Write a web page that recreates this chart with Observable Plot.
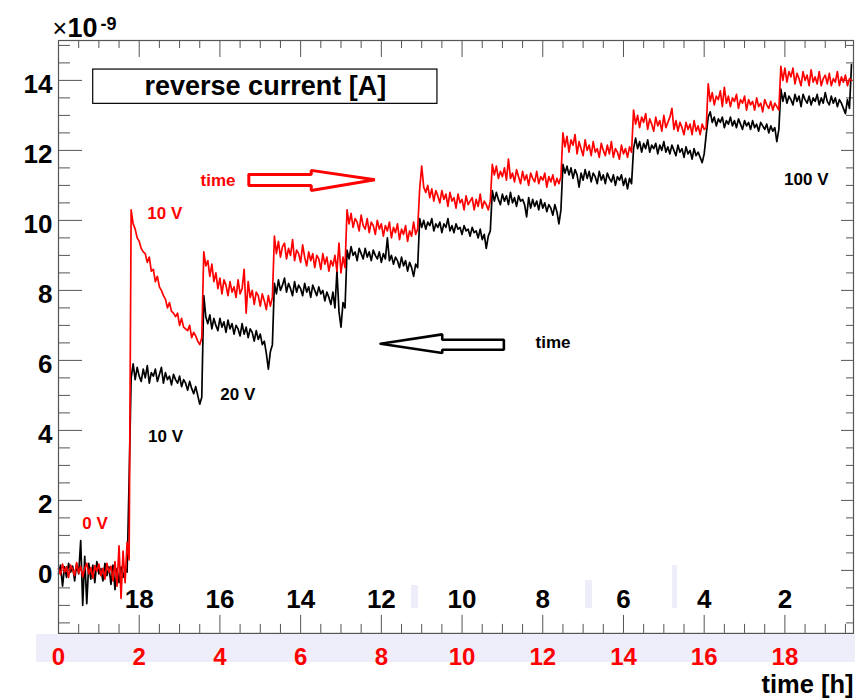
<!DOCTYPE html>
<html><head><meta charset="utf-8">
<script src="https://cdn.jsdelivr.net/npm/d3@7"></script>
<script src="https://cdn.jsdelivr.net/npm/@observablehq/plot@0.6"></script>
<style>
html,body{margin:0;padding:0;background:#fff;}
#wrap{position:relative;width:855px;height:698px;overflow:hidden;}
.band{position:absolute;background:#eeeefb;}
#chart{position:absolute;left:0;top:0;}
#chart svg{background:transparent;}
</style></head><body>
<div id="wrap">
<div class="band" style="left:36px;top:634px;width:819px;height:28px"></div>
<div class="band" style="left:411px;top:585px;width:7px;height:23px"></div>
<div class="band" style="left:585px;top:580px;width:7px;height:28px"></div>
<div class="band" style="left:672px;top:565px;width:5px;height:43px"></div>
<div id="chart"></div>
</div>
<script>
// sampling interval of the recorded traces (hours)
const sampleStep = 0.05;

// reverse current, red run (time running forward), units of 1e-9 A
const redCurrent = [
 0.05,-0.12,0.18,-0.05,0.10,-0.20,0.15,0.02,-0.15,0.22,-0.08,0.12,-0.18,0.05,0.20,-0.10,0.08,-0.22,0.14,-0.02,0.18,-0.15,0.06,-0.25,0.20,-0.05,0.12,-0.30,0.25,-0.45,0.70,-0.80,0.55,-0.35,0.80,0.30,
 10.30,9.90,9.75,9.50,9.40,9.20,9.10,9.05,8.80,8.95,8.55,8.60,8.25,8.40,8.10,8.00,7.85,7.75,7.50,7.65,7.40,7.35,7.25,7.35,7.00,7.20,6.95,6.90,6.85,7.00,6.65,6.80,6.70,6.55,6.45,6.65,
 9.10,8.70,8.85,8.40,8.75,8.25,8.50,8.05,8.35,7.90,8.30,8.15,7.85,8.25,7.95,8.10,7.80,8.30,7.90,8.05,8.60,7.35,8.25,7.80,8.00,7.60,7.95,7.85,7.55,7.90,7.70,7.45,7.85,7.55,7.80,
 9.55,9.05,9.40,8.95,9.25,9.35,8.90,9.20,9.00,9.45,8.85,9.15,9.05,8.80,9.30,8.95,8.70,9.10,8.85,9.05,8.65,9.00,8.90,8.60,9.05,8.75,8.95,8.55,8.85,8.70,9.00,8.55,9.35,8.50,8.95,8.65,
 10.30,9.90,10.20,9.80,10.05,9.95,9.70,10.15,9.85,9.75,10.05,9.65,9.95,9.85,9.60,10.00,9.75,9.90,9.55,9.85,9.70,9.95,9.50,9.80,9.65,9.90,9.45,9.75,9.60,9.85,9.40,9.70,9.55,9.95,9.60,9.75,
 10.90,11.55,10.95,10.80,11.00,10.65,10.90,10.55,10.85,10.70,10.50,10.85,10.60,10.75,10.40,10.80,10.55,10.65,10.35,10.75,10.50,10.60,10.30,10.70,10.45,10.55,10.65,10.30,10.60,10.40,10.75,10.35,10.55,10.45,10.30,10.55,
 11.60,11.30,11.55,11.20,11.40,11.25,11.50,11.15,11.75,11.20,11.35,11.10,11.45,11.25,11.05,11.40,11.15,11.30,11.00,11.35,11.20,11.10,11.40,11.05,11.25,11.15,11.35,10.95,11.25,11.10,11.30,11.00,11.20,11.05,11.25,
 12.50,12.10,12.40,11.95,12.30,12.15,12.45,11.90,12.25,12.05,11.85,12.30,12.00,12.15,11.85,12.25,11.95,12.05,11.80,12.20,12.00,11.85,12.15,11.90,12.25,11.80,12.05,11.95,11.75,12.15,11.90,12.05,11.80,12.10,11.95,
 13.15,12.75,13.00,12.65,12.95,12.80,13.05,12.60,12.90,12.75,12.55,12.95,12.70,12.85,12.55,13.00,12.65,12.80,12.95,13.20,12.60,12.85,12.55,12.80,12.65,12.45,12.80,12.60,12.75,12.45,12.85,12.55,12.70,12.45,12.75,12.60,12.65,
 13.90,13.40,13.65,13.30,13.55,13.45,13.70,13.25,13.80,13.35,13.55,13.25,13.50,13.40,13.60,13.20,13.45,13.35,13.55,13.15,13.45,13.30,13.40,13.15,13.50,13.25,13.35,13.10,13.45,13.30,13.20,13.40,13.15,13.35,13.25,13.15,
 14.40,14.00,14.35,13.95,14.25,14.10,14.35,13.90,14.20,14.05,13.85,14.25,14.00,14.15,13.85,14.30,13.95,14.10,13.90,14.25,13.85,14.05,14.15,13.90,14.20,13.85,14.05,13.95,14.25,13.85,14.10,13.95,14.15,13.85,14.05,14.00
];

// reverse current, black run (time running backward), units of 1e-9 A
const blackCurrent = [
 -0.10,0.15,-0.45,0.10,-0.20,0.20,-0.05,0.12,-0.30,0.18,-0.10,0.85,-1.00,0.40,-0.95,0.20,-0.25,0.15,-0.35,0.25,-0.10,0.05,-0.30,0.20,-0.15,0.10,-0.40,0.15,-0.55,0.05,-0.35,0.10,-0.20,0.05,-0.05,2.60,
 5.50,5.90,5.45,5.80,5.55,5.40,5.75,5.50,5.85,5.35,5.65,5.55,5.75,5.40,5.60,5.80,5.35,5.65,5.45,5.55,5.30,5.60,5.45,5.35,5.55,5.25,5.45,5.35,5.15,5.40,5.20,5.05,5.25,5.00,4.75,4.95,
 7.85,7.25,7.05,7.30,6.90,7.20,7.00,6.85,7.20,6.95,7.10,6.80,7.15,6.90,7.05,6.75,7.00,6.90,6.70,7.05,6.75,6.95,6.65,6.90,6.80,6.55,6.85,6.60,6.75,6.45,6.55,6.20,5.75,6.25,6.45,
 8.20,7.90,8.30,8.00,8.15,8.35,7.95,8.20,8.05,7.85,8.25,7.95,8.15,8.05,7.85,8.20,7.95,8.10,7.80,8.15,8.00,7.85,8.10,7.90,8.00,7.70,7.95,7.80,7.60,7.95,7.50,8.55,7.40,6.95,7.65,7.50,
 9.15,8.90,9.25,9.00,9.10,8.85,9.20,9.05,8.90,9.20,8.95,9.10,8.85,9.15,9.00,8.90,9.10,8.80,9.05,8.90,9.50,8.85,9.00,8.75,8.95,8.85,8.65,8.95,8.70,8.85,8.55,8.80,8.65,8.40,8.75,8.65,
 10.05,9.80,10.00,9.75,9.95,9.85,10.05,9.70,9.90,9.80,9.95,9.65,9.90,9.80,10.05,9.70,9.85,9.65,9.90,9.75,9.80,9.60,9.85,9.70,9.75,9.55,9.80,9.65,9.70,9.50,9.75,9.45,9.60,9.20,9.55,9.70,
 10.85,10.55,10.80,10.60,10.45,10.75,10.55,10.70,10.45,10.80,10.50,10.65,10.40,10.70,10.55,10.60,10.45,10.10,10.65,10.35,10.60,10.40,10.55,10.30,10.60,10.35,10.50,10.25,10.45,10.35,10.15,10.45,10.25,9.90,10.30,
 11.60,11.35,11.55,11.30,11.50,11.20,11.45,11.30,10.95,11.35,11.15,11.45,11.20,11.40,11.10,11.35,11.25,11.05,11.40,11.15,11.30,11.05,11.35,11.20,11.10,11.30,11.00,11.25,11.15,11.30,11.00,11.20,10.90,11.20,11.05,
 12.05,12.35,12.05,12.25,11.95,12.20,12.05,12.30,11.95,12.15,12.05,12.20,11.90,12.15,12.00,12.25,11.95,12.10,11.90,12.15,12.00,11.85,12.15,11.95,12.05,11.80,12.10,11.90,12.00,11.75,12.05,11.85,11.95,11.80,11.65,11.90,12.45,
 12.95,13.10,12.80,12.95,12.70,12.90,12.80,12.95,12.65,12.85,12.75,12.95,12.70,12.85,12.65,12.90,12.75,12.60,12.85,12.70,12.80,12.60,12.85,12.65,12.75,12.55,12.80,12.70,12.60,12.75,12.50,12.70,12.55,12.65,12.25,12.60,
 13.75,13.40,13.65,13.35,13.55,13.45,13.30,13.60,13.40,13.55,13.25,13.60,13.45,13.35,13.55,13.30,13.50,13.40,13.60,13.30,13.50,13.35,13.65,13.40,13.30,13.55,13.35,13.50,13.25,13.45,13.35,13.20,13.05,13.45,13.20,14.45
];

const timeTicks = [0, 2, 4, 6, 8, 10, 12, 14, 16, 18];
const reverseTimeLabels = ["18", "16", "14", "12", "10", "8", "6", "4", "2"];
const currentTicks = [0, 2, 4, 6, 8, 10, 12, 14];

const annotations = [
  {t: 0.59, v: 1.19, label: "0 V", color: "#ff0000"},
  {t: 2.20, v: 10.05, label: "10 V", color: "#ff0000"},
  {t: 3.52, v: 10.97, label: "time", color: "#ff0000"},
  {t: 2.22, v: 3.67, label: "10 V", color: "#000000"},
  {t: 4.01, v: 4.86, label: "20 V", color: "#000000"},
  {t: 11.82, v: 6.36, label: "time", color: "#000000"},
  {t: 17.98, v: 11.0, label: "100 V", color: "#000000"}
];
const redArrow = [[4.716,11.314],[6.263,11.314],[6.263,11.429],[7.839,11.163],[6.263,10.857],[6.263,11.0],[4.716,11.0],[4.716,11.314]];
const blackArrow = [[7.980,6.477],[9.509,6.743],[9.509,6.591],[11.036,6.591],[11.036,6.306],[9.509,6.306],[9.509,6.209],[7.980,6.477]];
const titleBox = {x1: 0.86, x2: 9.39, y1: 13.33, y2: 14.31, cx: 5.125, base: 13.57, text: "reverse current [A]"};

const W = 855, H = 698;
const mL = 58, mR = 2, mT = 40, mB = 65.1;
const PW = W - mL - mR, PH = H - mT - mB;
const xDomain = [0, 19.7], yDomain = [-1.8, 15.14];

const red = redCurrent.map((v, i) => ({t: i * sampleStep, v}));
const black = blackCurrent.map((v, i) => ({t: i * sampleStep, v}));
const xMinor = d3.range(0.5, 19.7, 0.5).filter(d => d % 2 !== 0);
const yMinor = d3.range(-1.5, 15.1, 0.5).filter(d => d % 2 !== 0);
const axisColor = "#555";
const font = "'Liberation Sans', Arial, Helvetica, sans-serif";

const chart = Plot.plot({
  width: W, height: H,
  marginLeft: mL, marginRight: mR, marginTop: mT, marginBottom: mB,
  x: {domain: xDomain, axis: null},
  y: {domain: yDomain, axis: null},
  style: {fontFamily: font, background: "transparent", overflow: "visible"},
  marks: [
    // ticks
    Plot.tickX(timeTicks, {x: d => d, insetTop: PH - 18, stroke: axisColor}),
    Plot.tickX(xMinor, {x: d => d, insetTop: PH - 9, stroke: axisColor}),
    Plot.tickX(timeTicks, {x: d => d, insetBottom: PH - 17, stroke: axisColor}),
    Plot.tickX(xMinor, {x: d => d, insetBottom: PH - 8, stroke: axisColor}),
    Plot.tickY(currentTicks, {y: d => d, insetRight: PW - 24, stroke: axisColor}),
    Plot.tickY(yMinor, {y: d => d, insetRight: PW - 12, stroke: axisColor}),
    Plot.tickY(currentTicks, {y: d => d, insetLeft: PW - 12, stroke: axisColor}),
    Plot.tickY(yMinor, {y: d => d, insetLeft: PW - 7, stroke: axisColor}),
    // traces
    Plot.line(black, {x: "t", y: "v", stroke: "#000", strokeWidth: 1.7}),
    Plot.line(red, {x: "t", y: "v", stroke: "#ff0000", strokeWidth: 1.7}),
    // arrows
    Plot.line(redArrow, {x: d => d[0], y: d => d[1], stroke: "#ff0000", strokeWidth: 3, strokeLinejoin: "miter"}),
    Plot.line(blackArrow, {x: d => d[0], y: d => d[1], stroke: "#000", strokeWidth: 2.6, strokeLinejoin: "miter"}),
    // annotations
    Plot.text(annotations, {x: "t", y: "v", text: "label", fill: "color", fontSize: 17, fontWeight: "bold", textAnchor: "start", lineAnchor: "bottom"}),
    // title box
    Plot.rect([titleBox], {x1: "x1", x2: "x2", y1: "y1", y2: "y2", fill: "white", stroke: "#000", strokeWidth: 1.2}),
    Plot.text([titleBox], {x: "cx", y: "base", text: "text", fontSize: 27, fontWeight: "bold", fill: "#000", lineAnchor: "bottom"}),
    // frame
    Plot.frame({stroke: axisColor, strokeWidth: 1.2}),
    // y tick labels
    Plot.text(currentTicks, {y: d => d, text: d => String(d), frameAnchor: "left", dx: -6, dy: 12.5, textAnchor: "end", lineAnchor: "bottom", fontSize: 26, fontWeight: "bold", fill: "#000"}),
    // bottom red time labels
    Plot.text(timeTicks, {x: d => d, text: d => String(d), frameAnchor: "bottom", dy: 32, lineAnchor: "bottom", fontSize: 24, fontWeight: "bold", fill: "#ff0000"}),
    // inner black reverse-time labels
    Plot.text(reverseTimeLabels, {x: (d, i) => timeTicks[i + 1], text: d => d, frameAnchor: "bottom", dy: -25, lineAnchor: "bottom", fontSize: 26, fontWeight: "bold", fill: "#000"}),
    // axis title
    Plot.text(["time [h]"], {frameAnchor: "bottom-right", dy: 60, textAnchor: "end", lineAnchor: "bottom", fontSize: 25.5, fontWeight: "bold", fill: "#000"}),
    // exponent
    Plot.text(["\u00d7"], {frameAnchor: "top-left", dx: -6, dy: -3.5, textAnchor: "start", lineAnchor: "bottom", fontSize: 25, fill: "#000"}),
    Plot.text(["10"], {frameAnchor: "top-left", dx: 9, dy: -3.5, textAnchor: "start", lineAnchor: "bottom", fontSize: 27, fontWeight: "bold", fill: "#000"}),
    Plot.text(["-9"], {frameAnchor: "top-left", dx: 42, dy: -11, textAnchor: "start", lineAnchor: "bottom", fontSize: 18, fontWeight: "bold", fill: "#000"})
  ]
});
document.getElementById("chart").appendChild(chart);
</script>
</body></html>
